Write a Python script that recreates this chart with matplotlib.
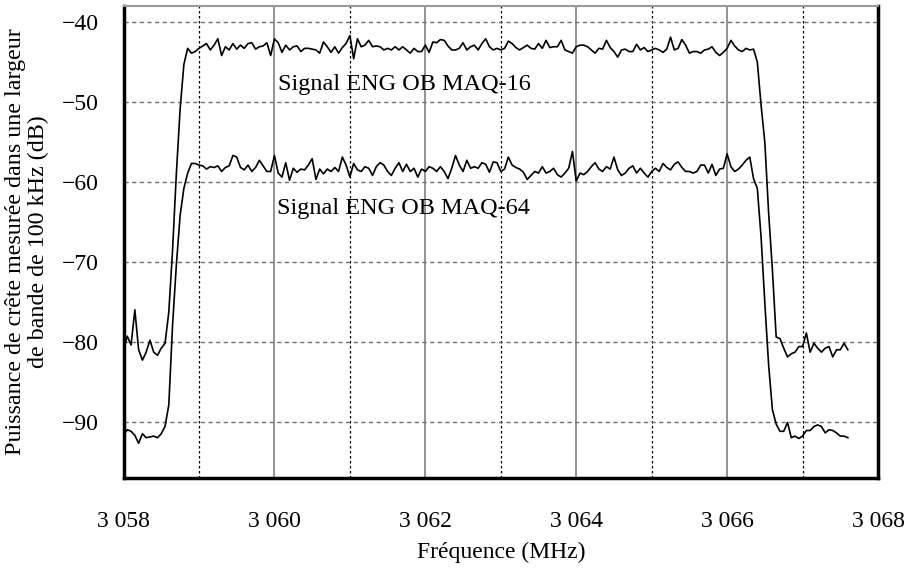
import numpy as np
import matplotlib.pyplot as plt
from matplotlib.ticker import MultipleLocator, FuncFormatter

plt.rcParams['font.family'] = ['Liberation Serif', 'DejaVu Serif']

# balayage de l'analyseur : 193 points de 3 058 a 3 067,6 MHz
f_start, f_stop, n_pts = 3058.0, 3067.6, 193

# niveaux crete releves (dB) pour chaque point du balayage
niveau_maq16 = [
    -81.0, -79.3, -80.4, -76.0, -81.0, -82.3, -81.3, -79.8, -81.3, -81.7,
    -80.8, -80.2, -76.3, -68.5, -59.0, -50.9, -45.3, -43.3,
    -43.9, -43.7, -43.3, -43.0, -42.7, -43.5, -42.9, -42.1, -44.2, -43.1,
    -43.5, -42.7, -43.4, -42.9, -43.3, -42.7, -42.6, -43.4, -43.1, -43.0,
    -42.6, -44.2, -42.1, -42.6, -43.8, -42.9, -43.5, -43.1, -43.0, -43.7,
    -43.3, -43.3, -43.4, -43.5, -43.9,
    -42.5, -43.1, -43.8, -43.1, -43.9, -43.2, -42.7, -41.7, -44.6, -42.1,
    -43.1, -42.9, -42.3, -43.1, -43.0, -43.1, -43.5, -43.3, -43.5, -43.1,
    -43.5, -43.1, -43.5, -43.9, -43.3, -43.7, -43.7, -42.9, -43.8, -42.5,
    -42.6, -42.2, -42.3, -43.0, -43.5, -43.5, -43.3, -42.6, -43.5,
    -43.1, -42.9, -43.5, -42.7, -42.1, -43.1, -43.5, -43.3, -43.5, -43.3,
    -42.4, -42.7, -43.2, -43.5, -43.2, -42.9, -43.3, -43.4, -42.7, -43.3,
    -42.3, -43.2, -43.1, -43.1, -42.3, -43.5, -43.7, -43.9, -43.1, -42.9,
    -42.9, -43.1, -43.5, -43.9, -43.3, -43.4, -42.3, -43.2, -43.7, -44.4,
    -43.5, -43.4, -43.7, -43.7, -42.8, -43.5, -43.2, -43.7, -43.5, -43.3,
    -43.5, -43.8, -43.4, -41.9, -43.5, -43.3, -42.2, -42.9, -43.9, -43.7,
    -43.7, -43.9, -43.5, -43.4, -43.1, -43.8, -44.2, -43.8, -43.3, -42.3,
    -43.0, -43.5, -43.7, -43.3, -43.5, -43.4, -45.0,
    -50.4, -55.1, -63.9, -71.0, -79.4, -79.6, -80.8, -81.9, -81.5, -81.3,
    -80.6, -80.6, -78.9, -81.3, -80.2, -80.8, -81.3, -80.8, -80.6, -81.9,
    -81.0, -81.0, -80.2, -81.0,
]

niveau_maq64 = [
    -91.7, -91.0, -91.2, -91.7, -92.7, -91.5, -92.0, -91.9, -91.8, -92.0,
    -91.5, -90.6, -87.9, -77.9, -70.4, -64.2, -60.8, -58.9,
    -57.7, -57.7, -57.9, -58.0, -58.4, -58.1, -58.2, -58.0, -58.7, -58.2,
    -58.0, -56.7, -56.9, -58.2, -58.5, -57.9, -58.7, -58.2, -57.3, -58.0,
    -58.7, -58.7, -56.7, -58.9, -59.4, -57.6, -59.8, -58.3, -58.8, -58.4,
    -58.5, -57.9, -57.1, -59.7, -58.4,
    -59.0, -58.4, -58.7, -58.2, -58.7, -56.9, -57.9, -59.4, -57.7, -58.5,
    -58.7, -58.1, -58.3, -59.2, -58.1, -57.6, -57.9, -58.7, -59.2, -58.3,
    -57.6, -58.7, -57.8, -58.7, -58.3, -59.4, -58.4, -58.7, -58.1, -58.3,
    -58.7, -58.1, -58.7, -59.6, -58.3, -56.7, -57.9, -58.7, -57.3,
    -58.3, -58.1, -58.3, -57.6, -57.8, -58.8, -57.5, -57.6, -58.7, -58.4,
    -56.9, -57.9, -58.2, -58.4, -58.8, -59.7, -59.2, -58.7, -58.9, -58.1,
    -58.9, -58.7, -58.3, -59.1, -59.4, -58.9, -58.3, -56.2, -59.9, -58.9,
    -59.1, -58.7, -58.1, -57.6, -58.4, -58.7, -58.1, -58.4, -56.9, -58.5,
    -59.2, -58.9, -58.3, -58.0, -58.9, -58.3, -58.9, -59.4, -58.7, -58.3,
    -58.7, -57.7, -58.2, -58.5, -57.8, -57.5, -58.2, -58.7, -58.7, -58.9,
    -58.7, -57.9, -57.9, -58.9, -57.8, -59.2, -58.4, -58.3, -56.5, -58.1,
    -58.7, -58.4, -57.9, -57.3, -56.9, -59.6, -60.8,
    -66.9, -75.2, -82.9, -88.5, -90.3, -91.2, -91.2, -90.1, -92.0, -91.8,
    -92.1, -91.8, -91.1, -91.1, -90.6, -90.4, -90.6, -91.4, -91.0, -91.1,
    -91.4, -91.8, -91.8, -92.0,
]

freq = np.linspace(f_start, f_stop, n_pts)

fig = plt.figure(figsize=(9.13, 5.69), dpi=100)
ax = fig.add_axes([0.1353, 0.1605, 0.8264, 0.829])

ax.plot(freq, niveau_maq16, color='black', lw=1.2)
ax.plot(freq, niveau_maq64, color='black', lw=1.2)

ax.text(3060.05, -47.8, 'Signal ENG OB MAQ-16', fontsize=17.5, va='center', ha='left')
ax.text(3060.03, -63.3, 'Signal ENG OB MAQ-64', fontsize=17.5, va='center', ha='left')

ax.set_xlim(3058, 3068)
ax.set_ylim(-97, -38)

# grille : traits pleins aux MHz pairs, pointilles aux impairs
ax.xaxis.set_major_locator(MultipleLocator(2))
ax.xaxis.set_minor_locator(MultipleLocator(1))
ax.yaxis.set_major_locator(MultipleLocator(10))
ax.grid(which='major', axis='x', color='#8a8a8a', lw=1.3, ls='-')
ax.grid(which='minor', axis='x', color='black', lw=0.9, ls=(0, (2, 2)))
ax.grid(which='major', axis='y', color='#707070', lw=1.0, ls=(0, (3, 2.5)))
ax.set_axisbelow(True)

ax.xaxis.set_major_formatter(FuncFormatter(lambda v, p: f'{v:,.0f}'.replace(',', ' ')))
ax.tick_params(which='both', length=0)
ax.tick_params(axis='x', pad=24, labelsize=17)
ax.tick_params(axis='y', pad=18, labelsize=17)

for side in ['left', 'bottom', 'right']:
    ax.spines[side].set_linewidth(2.5)
    ax.spines[side].set_color('black')
ax.spines['top'].set_linewidth(1.5)
ax.spines['top'].set_color('#9a9a9a')

ax.set_xlabel('Fréquence (MHz)', fontsize=17, labelpad=7)
ax.set_ylabel('Puissance de crête mesurée dans une largeur\nde bande de 100 kHz (dB)',
              fontsize=17.3, labelpad=9, linespacing=1.1)

fig.savefig('out.png', dpi=100)
